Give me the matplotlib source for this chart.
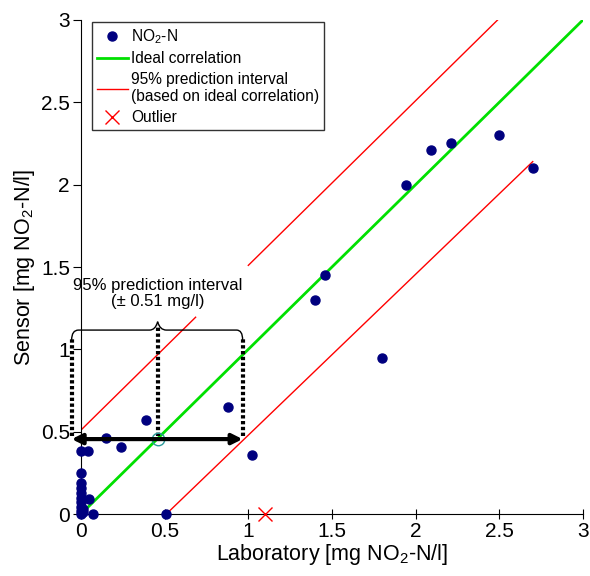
import matplotlib
matplotlib.use('Agg')
import matplotlib.pyplot as plt
from matplotlib.path import Path
from matplotlib.patches import PathPatch

plt.rcParams['font.family'] = ['Liberation Sans', 'DejaVu Sans']
plt.rcParams['mathtext.fontset'] = 'custom'
plt.rcParams['mathtext.rm'] = 'Liberation Sans'
plt.rcParams['mathtext.it'] = 'Liberation Sans:italic'

# measured values
lab = [0, 0, 0, 0, 0, 0, 0, 0, 0, 0, 0.01, 0.01, 0.04, 0.05, 0.07,
       0.15, 0.24, 0.39, 0.51, 0.88, 1.02, 1.40, 1.46, 1.80, 1.94,
       2.09, 2.21, 2.50, 2.70]
sensor = [0.0, 0.02, 0.045, 0.075, 0.10, 0.13, 0.16, 0.19, 0.25, 0.38,
          0.01, 0.03, 0.38, 0.09, 0.0,
          0.46, 0.41, 0.57, 0.0, 0.65, 0.36, 1.30, 1.45, 0.95, 2.00,
          2.21, 2.25, 2.30, 2.10]
outlier_x = [1.10]
outlier_y = [0.0]

# ideal correlation and prediction interval lines
ideal_x = [0.03, 3.0]
upper1_x = [0.0, 0.685]
upper2_x = [1.0, 2.49]
pi = 0.51
lower_x = [0.51, 2.70]
lower_y = [0.0, 2.14]

ticks = [0, 0.5, 1, 1.5, 2, 2.5, 3]
tick_labels = ['0', '0.5', '1', '1.5', '2', '2.5', '3']

# example point for interval explanation
ex_x = 0.458
ex_y = 0.455
left_x = -0.056
right_x = 0.966

fig = plt.figure(figsize=(5.9, 5.76), dpi=100)
ax = fig.add_axes([0.1373, 0.1076, 0.8507, 0.8577])

ax.plot(lab, sensor, 'o', color='#00007f', markersize=6.5, clip_on=False,
        zorder=5, label='NO$_2$-N')
ax.plot(ideal_x, ideal_x, '-', color='#00e000', linewidth=2,
        label='Ideal correlation')
ax.plot(upper1_x, [x + pi for x in upper1_x], '-', color='#ff0000',
        linewidth=1, label='95% prediction interval\n(based on ideal correlation)')
ax.plot(upper2_x, [x + pi for x in upper2_x], '-', color='#ff0000', linewidth=1)
ax.plot(lower_x, lower_y, '-', color='#ff0000', linewidth=1)
ax.plot(outlier_x, outlier_y, 'x', color='#ff0000', markersize=10,
        markeredgewidth=1, clip_on=False, zorder=6, label='Outlier')

# open circle on ideal line
ax.plot([ex_x], [ex_y], 'o', markerfacecolor='none', markeredgecolor='#2a9a9a',
        markersize=9, markeredgewidth=1, zorder=7)

# double arrow
ax.annotate('', xy=(left_x, ex_y), xytext=(right_x, ex_y),
            arrowprops=dict(arrowstyle='<|-|>', color='black', lw=3,
                            mutation_scale=15, shrinkA=0, shrinkB=0),
            annotation_clip=False, zorder=8)

# dotted verticals
for vx, top in [(left_x, 1.06), (ex_x, 1.15), (right_x, 1.06)]:
    ax.plot([vx, vx], [ex_y + 0.02, top], color='black', linewidth=3,
            linestyle=(0, (0.8, 0.6)), clip_on=False, zorder=4)

# curly brace
by = 1.117
verts = [(left_x, 1.057), (left_x, by), (-0.015, by),
         (0.41, by), (0.445, by), (ex_x, 1.168),
         (0.471, by), (0.51, by), (0.93, by),
         (right_x, by), (right_x, 1.057)]
codes = [Path.MOVETO, Path.CURVE3, Path.CURVE3,
         Path.LINETO, Path.CURVE3, Path.CURVE3,
         Path.CURVE3, Path.CURVE3, Path.LINETO,
         Path.CURVE3, Path.CURVE3]
brace = PathPatch(Path(verts, codes), facecolor='none', edgecolor='black',
                  linewidth=1, clip_on=False, zorder=4)
ax.add_patch(brace)

ax.text(0.46, 1.34, '95% prediction interval\n(\u00b1 0.51 mg/l)',
        ha='center', va='center', fontsize=12, linespacing=1.1)

ax.set_xlim(0, 3)
ax.set_ylim(0, 3)
ax.set_xticks(ticks)
ax.set_xticklabels(tick_labels)
ax.set_yticks(ticks)
ax.set_yticklabels(tick_labels)
ax.tick_params(axis='x', direction='inout', length=7, labelsize=15, pad=2)
ax.tick_params(axis='y', direction='out', length=6, labelsize=15, pad=2)
ax.spines['top'].set_visible(False)
ax.spines['right'].set_visible(False)
ax.set_xlabel('Laboratory [mg NO$_2$-N/l]', fontsize=15.5, labelpad=1)
ax.set_ylabel('Sensor [mg NO$_2$-N/l]', fontsize=15.5, labelpad=3)

leg = ax.legend(loc='upper left', bbox_to_anchor=(0.021, 0.996), fontsize=11.2,
                frameon=True, fancybox=False, edgecolor='black',
                handlelength=2.0, handletextpad=0.2, labelspacing=0.36,
                borderpad=0.33, borderaxespad=0)
leg.get_frame().set_linewidth(1)

plt.savefig('out.png', dpi=100)
